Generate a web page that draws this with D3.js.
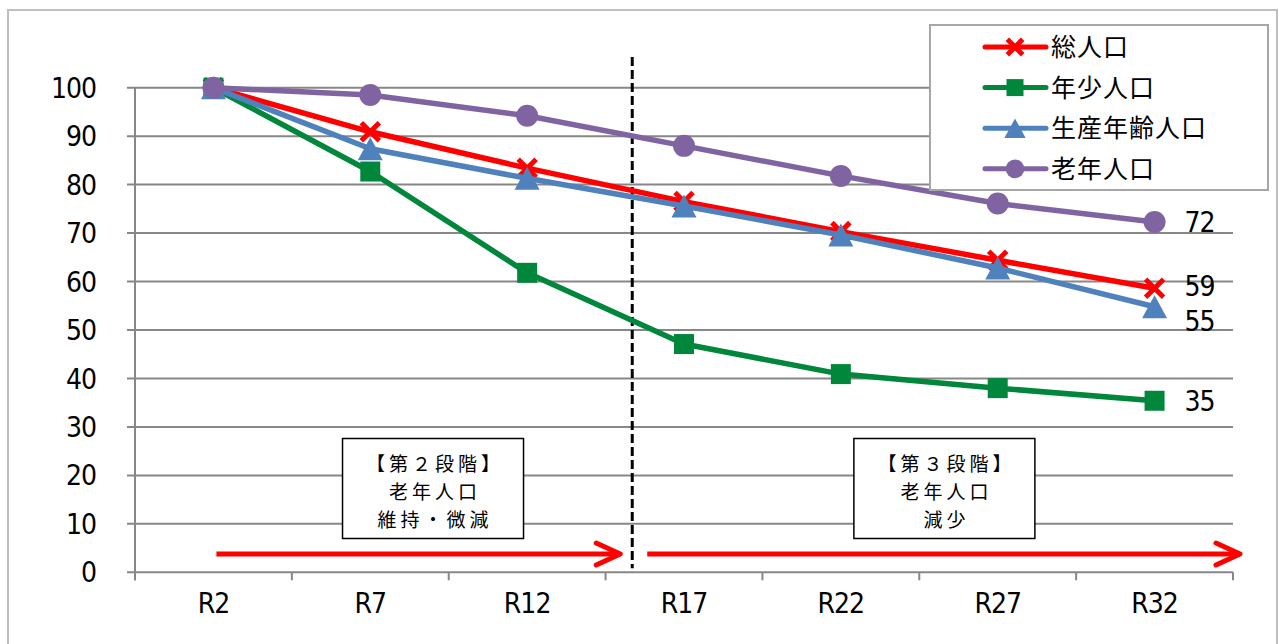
<!DOCTYPE html>
<html><head><meta charset="utf-8">
<script src="https://cdn.jsdelivr.net/npm/d3@7"></script>
<style>
html,body{margin:0;padding:0;background:#fff;}
svg{display:block;}
.num{font-family:"Liberation Sans Narrow","DejaVu Sans Condensed","Liberation Sans",sans-serif;letter-spacing:-1px;}
.jp{font-family:"Noto Sans CJK JP","Noto Sans CJK SC",sans-serif;}
</style></head>
<body>
<svg id="chart" width="1279" height="644"></svg>
<script>
// ---- data ----
const categories = ["R2","R7","R12","R17","R22","R27","R32"];
const totalPop   = [100, 90.9, 83.4, 76.5, 70.3, 64.4, 58.6];
const youthPop   = [100, 82.7, 61.8, 47.1, 40.9, 38.0, 35.4];
const workingPop = [100, 87.4, 81.3, 75.6, 69.6, 62.8, 54.8];
const elderlyPop = [100, 98.5, 94.2, 88.0, 81.8, 76.1, 72.3];
const seriesNames = ["総人口","年少人口","生産年齢人口","老年人口"];
const endLabels = ["59","35","55","72"];
const yTicks = [0,10,20,30,40,50,60,70,80,90,100];
const stage2Lines = ["【第２段階】","老年人口","維持・微減"];
const stage3Lines = ["【第３段階】","老年人口","減少"];

const colors = ["#FF0000","#00873C","#4F81BD","#8064A2"];
const markers = ["x","square","triangle","circle"];
const seriesValues = [totalPop, youthPop, workingPop, elderlyPop];

const svg = d3.select("#chart");
const plot = {left:135, right:1233, top:87.7, bottom:572.3};

// outer border
svg.append("rect").attr("x",8).attr("y",10).attr("width",1269).attr("height",660)
  .attr("fill","#fff").attr("stroke","#BFBFBF").attr("stroke-width",2);

const x = d3.scaleBand().domain(categories).range([plot.left, plot.right]).padding(0);
const xc = c => x(c) + x.bandwidth()/2;
const y = d3.scaleLinear().domain([0,100]).range([plot.bottom, plot.top]);

const gridColor = "#878787";
// gridlines + y ticks
const gy = svg.append("g");
gy.selectAll("line.grid").data(yTicks.filter(t=>t>0)).join("line")
  .attr("x1",plot.left-8).attr("x2",plot.right)
  .attr("y1",d=>y(d)).attr("y2",d=>y(d))
  .attr("stroke",gridColor).attr("stroke-width",2);
gy.selectAll("text").data(yTicks).join("text")
  .attr("class","num").attr("x",96).attr("y",d=>y(d)).attr("dy","0.36em")
  .attr("text-anchor","end").attr("font-size",28).attr("fill","#000")
  .text(d=>d);

// x axis line
svg.append("line").attr("x1",plot.left-8).attr("x2",plot.right)
  .attr("y1",y(0)).attr("y2",y(0)).attr("stroke",gridColor).attr("stroke-width",2);
// y axis line
svg.append("line").attr("x1",plot.left).attr("x2",plot.left)
  .attr("y1",y(100)).attr("y2",y(0)+8).attr("stroke",gridColor).attr("stroke-width",2);
// x category boundary ticks
const bounds = categories.map(c=>x(c)).concat([x(categories[categories.length-1])+x.bandwidth()]);
svg.selectAll("line.xt").data(bounds).join("line")
  .attr("x1",d=>d).attr("x2",d=>d).attr("y1",y(0)).attr("y2",y(0)+8)
  .attr("stroke",gridColor).attr("stroke-width",2);
// x labels
svg.selectAll("text.xl").data(categories).join("text")
  .attr("class","num").attr("x",d=>xc(d)).attr("y",613)
  .attr("text-anchor","middle").attr("font-size",28).attr("fill","#000").text(d=>d);

// stage divider (dashed) — between R12 and R17
const divX = xc("R12") + x.step()*0.67;
svg.append("line").attr("x1",divX).attr("x2",divX).attr("y1",57).attr("y2",y(0)-4)
  .attr("stroke","#000").attr("stroke-width",3).attr("stroke-dasharray","9,4");

// annotation boxes
function stageBox(cx, lines){
  svg.append("rect").attr("x",cx-90.5).attr("y",438.5).attr("width",181).attr("height",100)
    .attr("fill","#fff").attr("stroke","#000").attr("stroke-width",1.5);
  const ls = 4, lh = 28;
  svg.selectAll(null).data(lines).join("text").attr("class","jp")
    .attr("x",cx+ls/2).attr("y",(d,i)=>492+(i-1)*lh).attr("dy","0.36em")
    .attr("text-anchor","middle").attr("font-size",19)
    .attr("letter-spacing",ls).attr("fill","#000").text(d=>d);
}
stageBox(xc("R7") + x.step()*0.4, stage2Lines);
stageBox(xc("R17") + x.step()*1.66, stage3Lines);

// arrows
function arrow(x1,x2,yy){
  const g = svg.append("g").attr("stroke","#FF0000").attr("stroke-width",5).attr("fill","none");
  g.append("line").attr("x1",x1).attr("x2",x2-2).attr("y1",yy).attr("y2",yy);
  g.append("path").attr("d",`M${x2-24},${yy-11} L${x2},${yy} L${x2-24},${yy+11}`)
    .attr("stroke-linecap","round").attr("stroke-linejoin","round");
}
const arrowY = 554;
arrow(xc("R2")+3, divX-12, arrowY);
arrow(divX+15, plot.right+7, arrowY);

// marker drawing
function drawMarker(g, type, cx, cy, color, s){
  if(type==="x"){
    const h = 9*s;
    g.append("path").attr("d",`M${cx-h},${cy-h}L${cx+h},${cy+h}M${cx-h},${cy+h}L${cx+h},${cy-h}`)
      .attr("stroke",color).attr("stroke-width",5).attr("fill","none");
  } else if(type==="square"){
    const h = 10*s;
    g.append("rect").attr("x",cx-h).attr("y",cy-h).attr("width",2*h).attr("height",2*h).attr("fill",color);
  } else if(type==="triangle"){
    const w = 12.5*s, hh = 11.5*s;
    g.append("path").attr("d",`M${cx},${cy-hh}L${cx+w},${cy+hh}L${cx-w},${cy+hh}Z`).attr("fill",color);
  } else {
    g.append("circle").attr("cx",cx).attr("cy",cy).attr("r",11*s).attr("fill",color);
  }
}

// series
const line = d3.line().x((d,i)=>xc(categories[i])).y(d=>y(d));
seriesValues.forEach((vals,si)=>{
  const g = svg.append("g");
  g.append("path").attr("d",line(vals)).attr("fill","none")
    .attr("stroke",colors[si]).attr("stroke-width",5.5).attr("stroke-linejoin","round");
  vals.forEach((v,i)=>drawMarker(g, markers[si], xc(categories[i]), y(v), colors[si], 1));
});

// end labels (59 nudged up, 55 nudged down so they do not collide)
const endOffsets = [-2,0,14,0];
seriesValues.forEach((vals,si)=>{
  svg.append("text").attr("class","num")
    .attr("x",xc(categories[categories.length-1])+30)
    .attr("y",y(vals[vals.length-1])+endOffsets[si]).attr("dy","0.36em")
    .attr("font-size",28).attr("fill","#000").text(endLabels[si]);
});

// legend
const lg = svg.append("g");
lg.append("rect").attr("x",930).attr("y",25).attr("width",338).attr("height",165)
  .attr("fill","#fff").attr("stroke","#A6A6A6").attr("stroke-width",2);
seriesNames.forEach((name,i)=>{
  const yy = 47 + i*40.6;
  lg.append("line").attr("x1",985).attr("x2",1046).attr("y1",yy).attr("y2",yy)
    .attr("stroke",colors[i]).attr("stroke-width",5).attr("stroke-linecap","round");
  drawMarker(lg, markers[i], 1015, yy, colors[i], 0.85);
  lg.append("text").attr("class","jp").attr("x",1051).attr("y",yy).attr("dy","0.36em")
    .attr("font-size",25).attr("letter-spacing",1).attr("fill","#000").text(name);
});
</script>
</body></html>
